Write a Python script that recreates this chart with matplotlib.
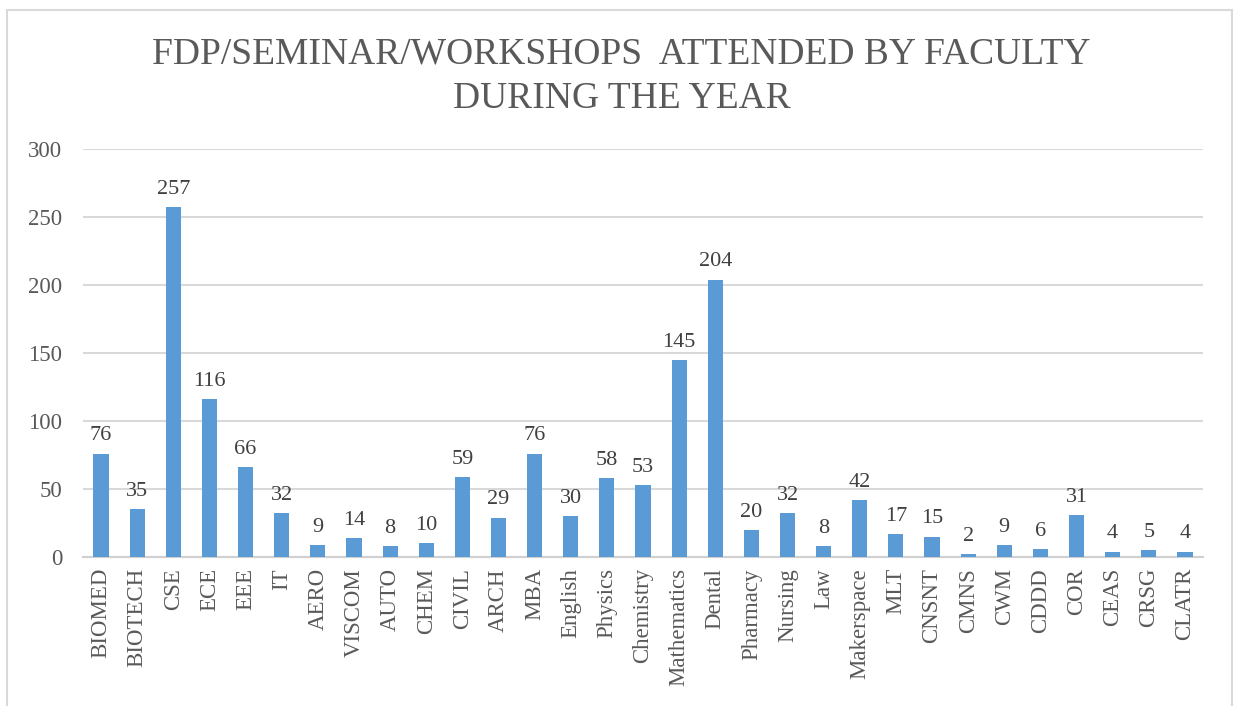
import matplotlib.pyplot as plt
from matplotlib.patches import Rectangle
import numpy as np

plt.rcParams['font.family'] = ['Liberation Serif', 'DejaVu Serif']

departments = ['BIOMED', 'BIOTECH', 'CSE', 'ECE', 'EEE', 'IT', 'AERO', 'VISCOM', 'AUTO', 'CHEM',
               'CIVIL', 'ARCH', 'MBA', 'English', 'Physics', 'Chemistry', 'Mathematics', 'Dental',
               'Pharmacy', 'Nursing', 'Law', 'Makerspace', 'MLT', 'CNSNT', 'CMNS', 'CWM', 'CDDD',
               'COR', 'CEAS', 'CRSG', 'CLATR']
attended = [76, 35, 257, 116, 66, 32, 9, 14, 8, 10,
            59, 29, 76, 30, 58, 53, 145, 204,
            20, 32, 8, 42, 17, 15, 2, 9, 6,
            31, 4, 5, 4]
yticks = [0, 50, 100, 150, 200, 250, 300]

fig = plt.figure(figsize=(12.33, 7.06), dpi=100)
# outer chart frame
fig.patches.append(Rectangle((7/1233, -0.01), 1225/1233, 1 - 10/706 + 0.01,
                             transform=fig.transFigure, fill=False,
                             edgecolor='#d9d9d9', linewidth=1.5))

ax = fig.add_axes([83/1233, 1 - 557/706, 1120/1233, 408/706])
x = np.arange(len(departments))
bars = ax.bar(x, attended, width=0.42, color='#5b9bd5', zorder=3)

for xi, v in zip(x, attended):
    ax.text(xi, v + 6, str(v), ha='center', va='bottom', fontsize=16, color='#404040')

ax.set_xlim(-0.5, len(departments) - 0.5)
ax.set_ylim(0, 300)
ax.set_yticks(yticks)
ax.set_xticks(x)
ax.set_xticklabels(departments, rotation=90, fontsize=16.5, color='#595959')
ax.tick_params(axis='y', length=0, pad=15, labelsize=16.5, labelcolor='#595959')
ax.tick_params(axis='x', length=0, pad=8)
ax.grid(axis='y', color='#d9d9d9', linewidth=1.5, zorder=0)
for s in ['top', 'right', 'left']:
    ax.spines[s].set_visible(False)
ax.spines['bottom'].set_color('#d0d0d0')
ax.spines['bottom'].set_linewidth(1.5)

fig.text(0.504, 1 - 54/706, 'FDP/SEMINAR/WORKSHOPS  ATTENDED BY FACULTY', ha='center', va='center',
         fontsize=27, color='#595959')
fig.text(0.504, 1 - 99/706, 'DURING THE YEAR', ha='center', va='center',
         fontsize=27, color='#595959')

fig.savefig('out.png', dpi=100)
